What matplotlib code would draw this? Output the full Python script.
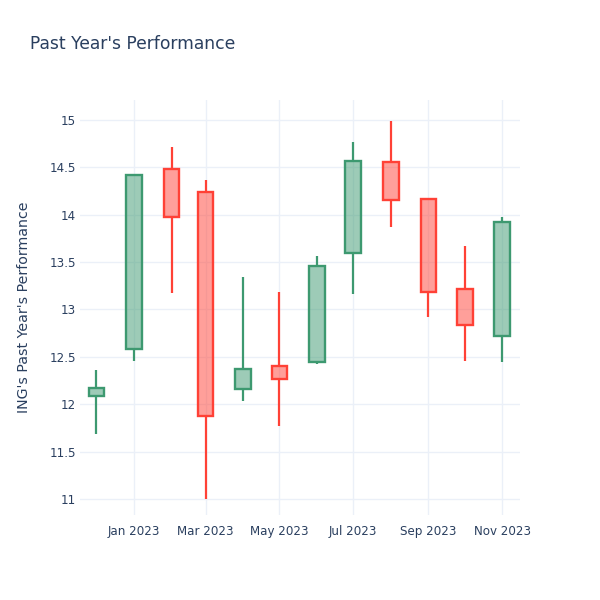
import matplotlib
matplotlib.use("Agg")
import matplotlib.pyplot as plt
import matplotlib.dates as mdates
from matplotlib.patches import Rectangle
import datetime as dt

dates = ["2022-12-01", "2023-01-01", "2023-02-01", "2023-03-01", "2023-04-01", "2023-05-01",
         "2023-06-01", "2023-07-01", "2023-08-01", "2023-09-01", "2023-10-01", "2023-11-01"]
opens = [12.09, 12.58, 14.48, 14.24, 12.16, 12.40, 12.44, 13.60, 14.56, 14.16, 13.21, 12.72]
highs = [12.36, 14.42, 14.71, 14.37, 13.34, 13.18, 13.56, 14.77, 14.99, 14.18, 13.67, 13.97]
lows = [11.68, 12.46, 13.17, 11.00, 12.03, 11.77, 12.42, 13.16, 13.87, 12.92, 12.46, 12.45]
closes = [12.17, 14.42, 13.97, 11.87, 12.37, 12.27, 13.46, 14.57, 14.15, 13.18, 12.84, 13.92]

tick_dates = ["2023-01-01", "2023-03-01", "2023-05-01", "2023-07-01", "2023-09-01", "2023-11-01"]
tick_labels = ["Jan 2023", "Mar 2023", "May 2023", "Jul 2023", "Sep 2023", "Nov 2023"]
y_ticks = [11, 11.5, 12, 12.5, 13, 13.5, 14, 14.5, 15]
y_tick_labels = ["11", "11.5", "12", "12.5", "13", "13.5", "14", "14.5", "15"]

INC = "#3D9970"
DEC = "#FF4136"
TXT = "#2a3f5f"
GRID = "#EBF0F8"

plt.rcParams['font.family'] = ['DejaVu Sans']

fig = plt.figure(figsize=(6, 6), dpi=100)
ax = fig.add_axes([80 / 600, 85 / 600, 440 / 600, 415 / 600])

def to_num(s):
    return mdates.date2num(dt.datetime.strptime(s, "%Y-%m-%d"))

half_w = 6.5
for d, o, h, l, c in zip(dates, opens, highs, lows, closes):
    x = to_num(d)
    col = INC if c >= o else DEC
    lo_b, hi_b = min(o, c), max(o, c)
    ax.plot([x, x], [l, lo_b], color=col, lw=1.6, solid_capstyle='butt', zorder=3)
    ax.plot([x, x], [hi_b, h], color=col, lw=1.6, solid_capstyle='butt', zorder=3)
    ax.add_patch(Rectangle((x - half_w, lo_b), 2 * half_w, hi_b - lo_b,
                           facecolor=col, alpha=0.5, edgecolor='none', zorder=3))
    ax.add_patch(Rectangle((x - half_w, lo_b), 2 * half_w, hi_b - lo_b,
                           facecolor='none', edgecolor=col, lw=1.7, zorder=4))

ax.set_xlim(to_num("2022-11-17") + 0.4, to_num("2023-11-15") + 0.6)
ax.set_ylim(10.83, 15.21)

ax.set_xticks([to_num(t) for t in tick_dates])
ax.set_xticklabels(tick_labels)
ax.set_yticks(y_ticks)
ax.set_yticklabels(y_tick_labels)
ax.tick_params(axis='both', length=0, colors=TXT, labelsize=8.6)
ax.tick_params(axis='x', pad=7)
ax.tick_params(axis='y', pad=3)
ax.grid(True, color=GRID, lw=1)
ax.set_axisbelow(True)
for s in ax.spines.values():
    s.set_visible(False)

ax.set_ylabel("ING's Past Year's Performance", color=TXT, fontsize=10.2, labelpad=13.5)
fig.text(30 / 600, 1 - 44 / 600, "Past Year's Performance", color=TXT, fontsize=12.3,
         va='center', ha='left')

fig.savefig("out.png", dpi=100, facecolor='white')
